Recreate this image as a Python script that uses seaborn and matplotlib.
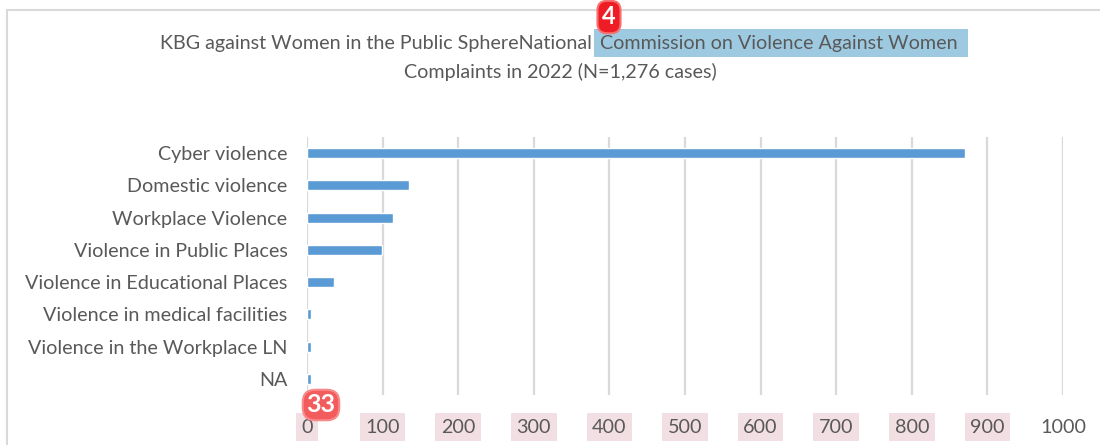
import matplotlib
matplotlib.use("Agg")
import matplotlib.pyplot as plt
import seaborn as sns
import pandas as pd
from matplotlib.lines import Line2D

categories = ["Cyber violence", "Domestic violence", "Workplace Violence",
              "Violence in Public Places", "Violence in Educational Places",
              "Violence in medical facilities", "Violence in the Workplace LN", "NA"]
cases = [870, 135, 114, 99, 36, 5, 5, 5]
x_ticks = [0, 100, 200, 300, 400, 500, 600, 700, 800, 900, 1000]
title_part1 = "KBG against Women in the Public SphereNational "
title_part2 = "Commission on Violence Against Women "
title_line2 = "Complaints in 2022 (N=1,276 cases)"

sns.set_theme(style="white")
plt.rcParams['font.family'] = ['Lato', 'DejaVu Sans']
txt = "#595959"

df = pd.DataFrame({"category": categories, "cases": cases})

fig = plt.figure(figsize=(11, 4.45), dpi=100)
ax = fig.add_axes([307/1100, 1-395/445, (1063-307)/1100, (395-137)/445])
sns.barplot(data=df, y="category", x="cases", orient="h", color="#5b9bd5",
            saturation=1, width=0.31, ax=ax)
ax.set_xlim(0, 1000)
ax.set_ylim(7.5, -0.5)
ax.set_xticks(x_ticks)
ax.grid(axis="x", color="#d9d9d9", linewidth=1.6)
ax.set_axisbelow(True)
for s in ax.spines.values():
    s.set_visible(False)
ax.set_xlabel("")
ax.set_ylabel("")
ax.tick_params(axis="y", length=0, pad=14, labelsize=14.2, labelcolor=txt)
ax.tick_params(axis="x", length=0, pad=17, labelsize=14.2, labelcolor=txt)
for lab in ax.get_xticklabels():
    if lab.get_text() != "1000":
        lab.set_bbox(dict(facecolor="#f2dfe3", edgecolor="none", pad=4))

# chart border
fig.add_artist(Line2D([7/1100, 1.0], [1-10/445, 1-10/445], color="#d9d9d9", lw=1.5))
fig.add_artist(Line2D([7/1100, 7/1100], [0, 1-10/445], color="#d9d9d9", lw=1.5))

# title
fig.text(597/1100, 1-44/445, title_part1, ha="right", va="center", fontsize=14.2, color=txt)
fig.text(600/1100, 1-43/445, title_part2, ha="left", va="center", fontsize=14.2, color=txt,
         bbox=dict(facecolor="#9ecae1", edgecolor="none", pad=4))
fig.text(560/1100, 1-72/445, title_line2, ha="center", va="center", fontsize=14.2, color=txt)

# badges
fig.text(609/1100, 1-17/445, "4", ha="center", va="center", fontsize=17, color="white",
         fontweight="bold",
         bbox=dict(boxstyle="round,pad=0.2,rounding_size=0.4", facecolor="#ee1c24",
                   edgecolor="#f87070", lw=1.5))
fig.text(321/1100, 1-405/445, "33", ha="center", va="center", fontsize=18, color="white",
         fontweight="bold",
         bbox=dict(boxstyle="round,pad=0.15,rounding_size=0.5", facecolor="#f25c5c",
                   edgecolor="#f88a8a", lw=1.5))

fig.savefig("out.png", dpi=100)
